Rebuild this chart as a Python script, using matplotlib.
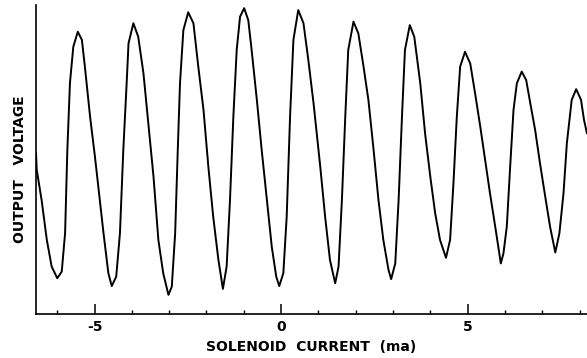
import numpy as np
import matplotlib.pyplot as plt
from matplotlib.ticker import MultipleLocator

plt.rcParams['axes.unicode_minus'] = False

# solenoid current (ma)
current = [-6.57, -6.55, -6.42, -6.28, -6.15, -6.00, -5.88, -5.79, -5.73, -5.66,
           -5.57, -5.45, -5.34, -5.26, -5.12, -4.99, -4.90, -4.76, -4.63, -4.54,
           -4.42, -4.32, -4.23, -4.14, -4.09, -3.96, -3.83, -3.69, -3.56, -3.42,
           -3.29, -3.16, -3.02, -2.93, -2.84, -2.77, -2.71, -2.62, -2.49, -2.35,
           -2.22, -2.08, -1.95, -1.82, -1.68, -1.56, -1.46, -1.37, -1.28, -1.19,
           -1.10, -0.99, -0.88, -0.79, -0.65, -0.52, -0.38, -0.25, -0.13, -0.05,
           0.06, 0.15, 0.24, 0.33, 0.46, 0.60, 0.73, 0.87, 1.05, 1.18,
           1.31, 1.45, 1.54, 1.63, 1.72, 1.80, 1.94, 2.07, 2.21, 2.34,
           2.48, 2.61, 2.74, 2.88, 2.95, 3.06, 3.15, 3.24, 3.32, 3.45,
           3.57, 3.73, 3.86, 4.00, 4.13, 4.26, 4.42, 4.53, 4.62, 4.71,
           4.80, 4.93, 5.07, 5.20, 5.34, 5.47, 5.60, 5.74, 5.89, 5.96,
           6.05, 6.14, 6.23, 6.32, 6.45, 6.57, 6.68, 6.81, 6.94, 7.08,
           7.21, 7.35, 7.46, 7.57, 7.66, 7.79, 7.91, 8.04, 8.12, 8.20]

# output voltage (arbitrary units)
voltage = [5.12, 4.59, 3.63, 2.36, 1.51, 1.14, 1.35, 2.58, 5.22, 7.36,
           8.51, 8.99, 8.73, 7.88, 6.28, 5.01, 4.05, 2.57, 1.30, 0.89,
           1.19, 2.57, 5.22, 7.35, 8.62, 9.26, 8.83, 7.67, 6.07, 4.37,
           2.36, 1.30, 0.61, 0.87, 2.57, 5.22, 7.35, 9.04, 9.61, 9.26,
           7.88, 6.50, 4.69, 3.10, 1.72, 0.80, 1.51, 3.63, 6.28, 8.41,
           9.47, 9.74, 9.36, 8.41, 6.82, 5.22, 3.63, 2.14, 1.19, 0.89,
           1.30, 3.10, 6.28, 8.73, 9.68, 9.26, 8.09, 6.71, 4.69, 3.10,
           1.72, 0.98, 1.51, 3.63, 6.28, 8.41, 9.31, 8.94, 7.88, 6.82,
           5.22, 3.63, 2.36, 1.40, 1.11, 1.61, 3.63, 6.28, 8.41, 9.20,
           8.83, 7.35, 5.75, 4.37, 3.21, 2.36, 1.79, 2.36, 4.16, 6.28,
           7.88, 8.35, 7.98, 7.03, 5.96, 4.90, 3.84, 2.78, 1.61, 1.93,
           2.78, 4.69, 6.50, 7.35, 7.72, 7.45, 6.71, 5.86, 4.80, 3.74,
           2.78, 1.96, 2.57, 3.84, 5.44, 6.82, 7.16, 6.82, 6.18, 5.75]

fig = plt.figure(figsize=(5.87, 3.58), dpi=100)
ax = fig.add_axes([0.0607, 0.1229, 0.9393, 0.863])

ax.plot(current, voltage, color='black', lw=1.4,
        solid_joinstyle='round', solid_capstyle='round')

ax.set_xlim(-6.58, 8.2)
ax.set_ylim(0, 9.84)

# only left and bottom axis lines, like the original chart recorder plot
ax.spines['top'].set_visible(False)
ax.spines['right'].set_visible(False)
ax.spines['left'].set_linewidth(1.2)
ax.spines['bottom'].set_linewidth(1.2)

ax.set_yticks([])
ax.set_xticks([-5, 0, 5])
ax.xaxis.set_minor_locator(MultipleLocator(1))
ax.tick_params(axis='x', which='major', direction='in', length=7, width=1.1,
               pad=4, labelsize=10)
ax.tick_params(axis='x', which='minor', direction='in', length=3, width=1.0)
for lbl in ax.get_xticklabels():
    lbl.set_fontweight('bold')

ax.set_xlabel('SOLENOID  CURRENT  (ma)', fontsize=10, fontweight='bold')
ax.xaxis.set_label_coords(0.5, -0.085)
ax.set_ylabel('OUTPUT   VOLTAGE', fontsize=10, fontweight='bold')
ax.yaxis.set_label_coords(-0.016, 0.47)

fig.savefig('out.png', dpi=100)
